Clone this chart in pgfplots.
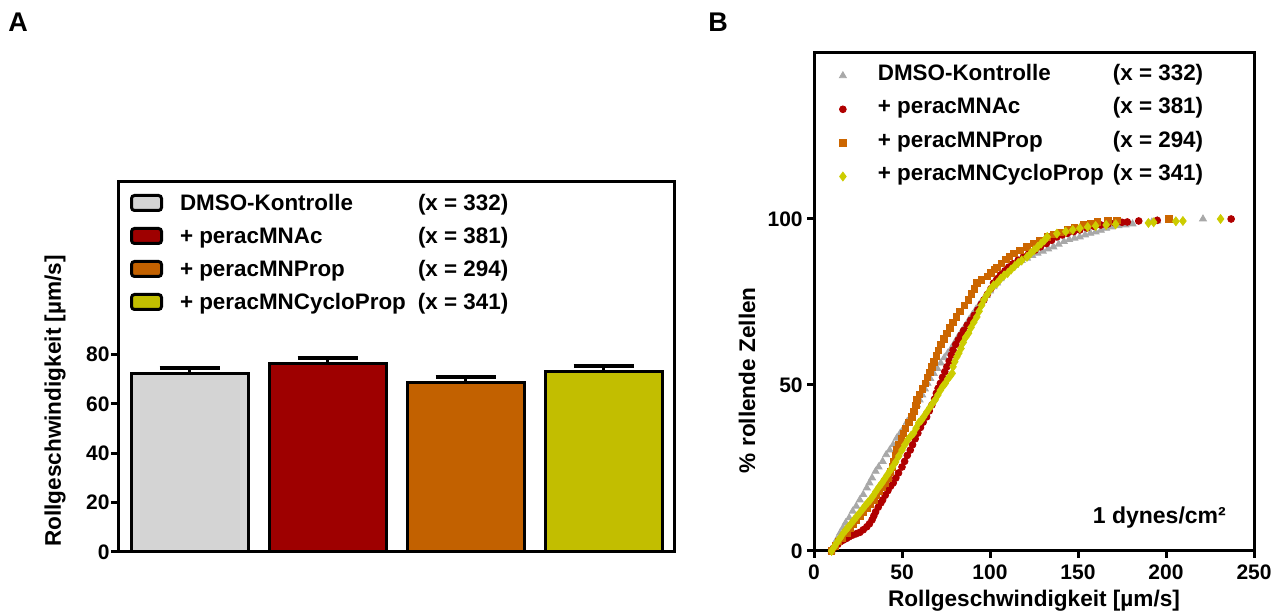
\documentclass[border=0pt]{standalone}
\usepackage{fontspec}
\setmainfont{Liberation Sans}
\usepackage{pgfplots}
\pgfplotsset{compat=1.18}

\definecolor{barGray}{HTML}{D4D4D4}
\definecolor{barRed}{HTML}{9E0000}
\definecolor{barOrange}{HTML}{C26100}
\definecolor{barYellow}{HTML}{C2BE00}
\definecolor{mGray}{HTML}{A8A8A8}
\definecolor{mRed}{HTML}{B00000}
\definecolor{mOrange}{HTML}{CC6600}
\definecolor{mYellow}{HTML}{CCCC00}

\pgfplotsset{
  common/.style={
    scale only axis,
    axis line style={line width=1.5pt},
    tick style={line width=1.5pt, black},
    major tick length=3.5pt,
    tick align=outside,
    tick pos=left,
    /pgf/number format/assume math mode=true,
    tick label style={font=\bfseries\fontsize{10.5}{12}\selectfont},
    label style={font=\bfseries\fontsize{11.3}{13}\selectfont},
    legend cell align=left,
    legend style={draw=none, fill=none, anchor=north west,
      inner sep=0pt, outer sep=0pt,
      font=\bfseries\fontsize{11.2}{13}\selectfont,
      nodes={inner sep=0pt, text height=8pt, text depth=2.5pt}},
  },
  barleg/.style={legend image code/.code={
    \draw[##1, line width=1.5pt, rounded corners=1.5pt] (0.75pt,-2.75pt) rectangle (15.75pt,4.75pt);}},
  mleg/.style={legend image code/.code={
    \path[draw=none, fill=none] (0pt,-4pt) rectangle (16.5pt,3pt);
    \draw[##1] plot coordinates {(8.5pt,-0.5pt)};}},
  errb/.style={error bars/.cd, y dir=plus, y explicit,
    error bar style={line width=1.5pt, black},
    error mark=|,
    error mark options={line width=2pt, mark size=15pt, black}},
}

\begin{document}
\begin{tikzpicture}
\useasboundingbox (0,0) rectangle (638.5pt,306.5pt);
\node[font=\bfseries\fontsize{13.5}{15}\selectfont] at (9pt,295.5pt) {A};
\node[font=\bfseries\fontsize{13.5}{15}\selectfont] at (359pt,295.5pt) {B};

% Panel A: mean rolling velocity
\begin{axis}[common,
  at={(59pt,30.5pt)}, anchor=south west,
  width=278pt, height=185pt,
  xmin=0.48, xmax=4.51, ymin=0, ymax=150,
  xtick=\empty, ytick={0,20,40,60,80},
  yticklabel style={inner sep=0.5pt},
  ylabel={Rollgeschwindigkeit [µm/s]},
  ylabel style={at={(rel axis cs:-0.113,0.408)}, anchor=center},
  legend style={at={(rel axis cs:0.0216,0.9676)}, column sep=8.5pt, row sep=5.75pt},
]
\addplot[ybar, bar width=0.85, bar shift=0pt, fill=barGray, draw=black, line width=1.5pt, barleg, errb]
  coordinates {(1,72.3) +- (0,2.3)};
\addlegendentry{\makebox[119pt][l]{DMSO-Kontrolle}(x = 332)}
\addplot[ybar, bar width=0.85, bar shift=0pt, fill=barRed, draw=black, line width=1.5pt, barleg, errb]
  coordinates {(2,76.6) +- (0,2.0)};
\addlegendentry{\makebox[119pt][l]{+ peracMNAc}(x = 381)}
\addplot[ybar, bar width=0.85, bar shift=0pt, fill=barOrange, draw=black, line width=1.5pt, barleg, errb]
  coordinates {(3,68.7) +- (0,2.2)};
\addlegendentry{\makebox[119pt][l]{+ peracMNProp}(x = 294)}
\addplot[ybar, bar width=0.85, bar shift=0pt, fill=barYellow, draw=black, line width=1.5pt, barleg, errb]
  coordinates {(4,73.2) +- (0,2.4)};
\addlegendentry{\makebox[119pt][l]{+ peracMNCycloProp}(x = 341)}
\end{axis}

% Panel B: cumulative distribution
\begin{axis}[common,
  at={(407pt,31pt)}, anchor=south west,
  width=220pt, height=249pt,
  xmin=0, xmax=250, ymin=0, ymax=150,
  xtick={0,50,100,150,200,250}, ytick={0,50,100},
  yticklabel style={inner sep=2pt},
  xlabel={Rollgeschwindigkeit [µm/s]},
  xlabel style={at={(rel axis cs:0.5,-0.112)}, anchor=base},
  ylabel={\% rollende Zellen},
  ylabel style={at={(rel axis cs:-0.152,0.343)}, anchor=center},
  legend style={at={(rel axis cs:0.027,0.9775)}, column sep=9.5pt, row sep=6.3pt},
  clip=false,
]
\addplot[only marks, mark=triangle*, mark size=2pt, color=mGray, mleg] coordinates {
(10,0) (11.5,1.5) (13,3.5) (14.8,5.4) (16.5,7) (18,8.5) (20,10) (22,12) (24,13.5)
(26,15.4) (28,17) (30,19) (31.5,20.5) (33,22) (35,24) (36.7,25.3) (39,27) (41,29)
(43,30.4) (45,32) (47,34) (49,35.5) (51,37) (53,39) (55,40.5) (57,42.5) (58.5,44)
(60,45.5) (61.5,47) (63,48.8) (64.5,50.5) (66,52) (68,53.5) (70,55) (72,56.6)
(74,58.2) (76,59.6) (78,61) (80,62.8) (82,64.6) (84,66.2) (86,67.8) (88,69.6)
(90,71.2) (92,72.8) (94,74.3) (96,75.6) (98,77) (100,78.3) (102,79.6) (104,80.7)
(106,82) (108,83.2) (110,84.3) (112,85.2) (114,86) (116,86.8) (118,87.5) (121,88.2)
(124,89) (127,89.7) (130,90.3) (133,91) (136,91.6) (139,92.4) (142,93.2) (145,93.8)
(148,94.2) (151,94.6) (154,95.2) (157,95.7) (160,96.1) (163,96.6) (166,97.2)
(169,97.6) (173,98) (177,98.2) (181,98.5) (192,99.1) (195,99.4) (221,100)
};
\addlegendentry{\makebox[117.5pt][l]{DMSO-Kontrolle}(x = 332)}
\addplot[only marks, mark=*, mark size=1.7pt, color=mRed, mleg] coordinates {
(10,0) (11,0.8) (12,1.3) (13.5,2) (15,2.8) (16.7,3.3) (18.5,3.8) (20,4.3) (22,4.8)
(24,5.2) (26,5.6) (28,6.4) (30,7.3) (31.5,8.2) (33,9.4) (34,10.6) (35,11.8)
(36.5,13.2) (38,14.5) (39,15.4) (40.5,16.8) (42,18.2) (43.5,19.5) (45,20.5)
(46.5,22) (48,23.5) (50,25.3) (51.5,27) (53,28.8) (54.7,30.4) (56,32) (57.5,33.8)
(59,35.5) (60.5,37.2) (62,38.8) (64,40.4) (65.5,42.2) (67,44) (68.5,45.8)
(69.5,47.5) (70.5,49) (71.8,50.5) (73,52.3) (74.3,54) (75.5,55.5) (76.8,57.2)
(78,59) (79,60.5) (80.5,62.2) (82,63.6) (83.5,65) (85,66.4) (87,68) (89,69.5)
(91,71) (93,72.6) (95,74.3) (96.5,75.6) (98.5,77.3) (100.5,79) (102,80.7) (104,82)
(106,83.2) (108.5,84.4) (110.6,85.5) (113,86.5) (116,87.6) (119,88.6) (122,89.6)
(125.5,90.6) (128.6,91.6) (132,92.6) (135,93.6) (138,94.6) (141,95.2) (144,95.7)
(147.5,96.2) (151,96.7) (155,97.3) (159,97.8) (163,98.2) (167,98.5) (171,98.8)
(175,99) (178,99.1) (184.5,99.4) (195,99.6) (237,100)
};
\addlegendentry{\makebox[117.5pt][l]{+ peracMNAc}(x = 381)}
\addplot[only marks, mark=square*, mark size=1.6pt, color=mOrange, mleg] coordinates {
(10,0) (12,1.5) (14,2.8) (16,4) (18.6,5.4) (20.5,6.8) (22.5,8.2) (24,9.2) (26,10.4)
(28,11.6) (30,12.8) (32,14.2) (34,15.4) (35.5,16.8) (37,18) (38.5,19.2) (40.5,20.4)
(42,22) (43.5,23.8) (44.6,25.3) (45.5,27) (46.2,28.8) (47,30.4) (48,32) (49.5,33.8)
(50.8,35.5) (52,37) (54,38.8) (55.6,40.4) (56.8,42) (57.8,43.8) (58.5,45.5)
(60,47.2) (61.5,48.8) (63.3,50.5) (64.5,52.2) (65.8,53.8) (67,55.4) (68.2,57)
(69.5,58.8) (70.7,60.5) (72,62.2) (73.8,63.9) (75.5,65.6) (77.3,67.2) (79,68.8)
(81,70.5) (83,72.2) (85.5,74) (87.8,75.6) (89.5,77.4) (91,79) (92.5,80.7)
(95,81.6) (98.5,82.7) (100.5,83.8) (102.5,84.8) (104,85.5) (106.5,86.7) (109,87.8)
(111,88.8) (113.5,89.7) (117,90.6) (121,91.6) (124.5,92.6) (128,93.6) (132.5,94.6)
(136,95.3) (140,96) (144,96.7) (148,97.4) (153,98.2) (157,98.7) (161,99.1)
(167,99.4) (172,99.6) (201.6,100)
};
\addlegendentry{\makebox[117.5pt][l]{+ peracMNProp}(x = 294)}
\addplot[only marks, mark=diamond*, mark size=2.2pt, color=mYellow, mleg] coordinates {
(10,0) (11.5,1.3) (13,2.5) (14.8,3.9) (16.7,5.4) (18.2,6.4) (19.5,7.2) (21,8.2)
(22.8,9.4) (24.3,10.4) (26,11.5) (27.6,12.6) (29.2,13.7) (30.6,14.6) (32,15.4)
(33.6,16.6) (35,17.8) (36.8,19.2) (38.5,20.4) (40,21.6) (41.5,22.8) (43,24)
(44.6,25.3) (46.4,26.8) (48.2,28.6) (50,30.4) (51.6,32) (53.2,33.4) (55,34.6)
(56.6,35.5) (58,37) (59.5,38.6) (61,39.4) (62.3,40.4) (64,41.8) (65.8,43.2)
(67.3,44.4) (68.8,45.5) (70.4,47) (71.8,48.4) (73.2,49.6) (74.6,50.5) (76,51.8)
(77.2,52.6) (78.5,53.5) (79,55.5) (80,57) (81.2,58.5) (82.3,59.6) (83.5,61)
(84.8,62.8) (86.2,64.4) (87.8,65.6) (89.2,67.3) (90.8,68.9) (92.5,70.5)
(93.8,72.2) (95.2,74) (96.5,75.6) (98.3,77.2) (100.2,78.8) (102,80) (104,80.7)
(106,82) (108,83) (110,83.7) (112,84.8) (114,85.8) (116,86.8) (118,87.5)
(121,88.6) (123,89.6) (125,90.6) (127,91.6) (129,92.6) (131,93.6) (132.5,94.6)
(138,95.6) (143,96.2) (147,96.7) (151,97.2) (155.5,97.6) (160,97.9) (166,98.2)
(171.4,98.4) (190,98.8) (193,99) (205.6,99.3) (209.6,99.4) (231,100)
};
\addlegendentry{\makebox[117.5pt][l]{+ peracMNCycloProp}(x = 341)}
\node[anchor=east, font=\bfseries\fontsize{11.5}{13}\selectfont] at (axis cs:238,10) {1 dynes/cm²};
\end{axis}
\end{tikzpicture}
\end{document}
